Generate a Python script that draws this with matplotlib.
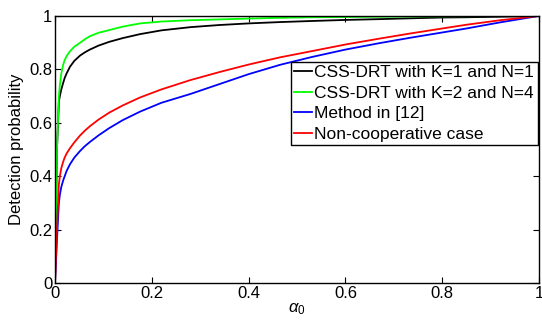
import matplotlib
matplotlib.use("Agg")
import matplotlib.pyplot as plt

# false alarm probability (x axis)
alpha = [0, 0.004, 0.008, 0.01, 0.013, 0.017, 0.02, 0.024, 0.031, 0.04,
         0.052, 0.062, 0.072, 0.09, 0.112, 0.14, 0.176, 0.22, 0.28, 0.34,
         0.4, 0.465, 0.53, 0.6, 0.67, 0.733, 0.8, 0.85, 0.92, 1.0]

pd_k1n1 = [0, 0.50, 0.68, 0.70, 0.725, 0.75, 0.768, 0.785, 0.81, 0.832,
           0.852, 0.864, 0.874, 0.889, 0.903, 0.917, 0.932, 0.946, 0.958, 0.966,
           0.972, 0.977, 0.981, 0.985, 0.988, 0.991, 0.994, 0.995, 0.997, 1.0]
pd_k2n4 = [0, 0.50, 0.70, 0.74, 0.785, 0.818, 0.835, 0.85, 0.868, 0.885,
           0.90, 0.913, 0.924, 0.937, 0.947, 0.96, 0.972, 0.979, 0.984, 0.987,
           0.99, 0.993, 0.995, 0.996, 0.997, 0.998, 0.9985, 0.999, 0.9995, 1.0]
pd_ref12 = [0, 0.16, 0.30, 0.33, 0.36, 0.385, 0.40, 0.42, 0.445, 0.47,
            0.495, 0.513, 0.528, 0.553, 0.58, 0.61, 0.642, 0.675, 0.708, 0.745,
            0.782, 0.817, 0.846, 0.874, 0.898, 0.918, 0.938, 0.953, 0.976, 1.0]
pd_noncoop = [0, 0.20, 0.37, 0.40, 0.43, 0.455, 0.47, 0.485, 0.505, 0.527,
              0.553, 0.571, 0.587, 0.612, 0.638, 0.665, 0.695, 0.725, 0.76, 0.79,
              0.818, 0.845, 0.868, 0.893, 0.915, 0.934, 0.953, 0.967, 0.984, 1.0]

labels = ["CSS-DRT with K=1 and N=1", "CSS-DRT with K=2 and N=4",
          "Method in [12]", "Non-cooperative case"]

plt.rcParams['font.family'] = ['Liberation Sans', 'DejaVu Sans']
plt.rcParams['mathtext.fontset'] = 'custom'
plt.rcParams['mathtext.rm'] = 'Liberation Sans'
plt.rcParams['mathtext.it'] = 'Liberation Sans:italic'

fig = plt.figure(figsize=(5.42, 3.25), dpi=100)
ax = fig.add_axes([0.1015, 0.129, 0.893, 0.822])

lw = 1.3
ax.plot(alpha, pd_k1n1, color="black", lw=lw, label=labels[0])
ax.plot(alpha, pd_k2n4, color="#00ff00", lw=lw, label=labels[1])
ax.plot(alpha, pd_ref12, color="blue", lw=lw, label=labels[2])
ax.plot(alpha, pd_noncoop, color="red", lw=lw, label=labels[3])

ax.set_xlim(0, 1)
ax.set_ylim(0, 1)
ticks = [0, 0.2, 0.4, 0.6, 0.8, 1]
tick_labels = ["0", "0.2", "0.4", "0.6", "0.8", "1"]
ax.set_xticks(ticks)
ax.set_xticklabels(tick_labels)
ax.set_yticks(ticks)
ax.set_yticklabels(tick_labels)
ax.tick_params(direction="in", top=True, right=True, labelsize=12,
               length=4, width=0.8, pad=2)
for s in ax.spines.values():
    s.set_linewidth(1.0)

ax.set_xlabel(r"$\alpha_0$", fontsize=12, labelpad=0)
ax.set_ylabel("Detection probability", fontsize=12, labelpad=4)

leg = ax.legend(loc="upper right", bbox_to_anchor=(0.997, 0.828),
                borderaxespad=0, fontsize=12.5, handlelength=1.0,
                handletextpad=0.15, labelspacing=0.3, borderpad=0.2,
                fancybox=False, framealpha=1, edgecolor="black")
leg.get_frame().set_linewidth(1.0)

fig.savefig("out.png", dpi=100)
